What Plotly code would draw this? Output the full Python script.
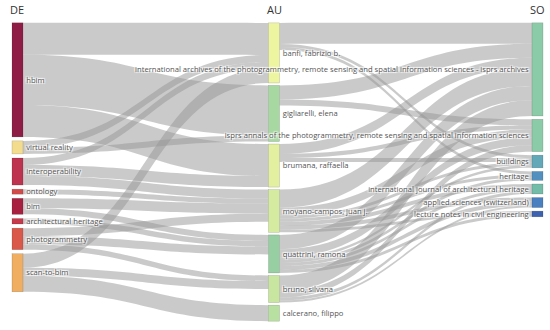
import plotly.graph_objects as go

# ---------------- data ----------------
DE = ["hbim", "virtual reality", "interoperability", "ontology", "bim",
      "architectural heritage", "photogrammetry", "scan-to-bim"]
AU = ["banfi, fabrizio b.", "gigliarelli, elena", "brumana, raffaella",
      "moyano-campos, juan j.", "quattrini, ramona", "bruno, silvana",
      "calcerano, filippo"]
SO = ["international archives of the photogrammetry, remote sensing and spatial information sciences - isprs archives",
      "isprs annals of the photogrammetry, remote sensing and spatial information sciences",
      "buildings", "heritage", "international journal of architectural heritage",
      "applied sciences (switzerland)", "lecture notes in civil engineering"]

# DE -> AU links
de_au_src = ["hbim", "hbim", "hbim", "virtual reality", "virtual reality",
             "interoperability", "interoperability", "interoperability",
             "ontology", "bim", "bim", "architectural heritage",
             "photogrammetry", "photogrammetry", "photogrammetry",
             "scan-to-bim", "scan-to-bim", "scan-to-bim"]
de_au_tgt = ["banfi, fabrizio b.", "gigliarelli, elena", "brumana, raffaella",
             "banfi, fabrizio b.", "gigliarelli, elena",
             "banfi, fabrizio b.", "brumana, raffaella", "moyano-campos, juan j.",
             "moyano-campos, juan j.", "moyano-campos, juan j.", "quattrini, ramona",
             "quattrini, ramona",
             "moyano-campos, juan j.", "quattrini, ramona", "bruno, silvana",
             "banfi, fabrizio b.", "bruno, silvana", "calcerano, filippo"]
de_au_val = [32, 50, 32, 7, 6, 7, 11, 9, 5, 10, 6, 5.5, 8, 8, 5.5, 14, 8, 16]

# AU -> SO links
au_so_src = ["banfi, fabrizio b."] * 3 + ["gigliarelli, elena"] * 2 + \
            ["brumana, raffaella"] * 3 + ["moyano-campos, juan j."] * 7 + \
            ["quattrini, ramona"] * 7 + ["bruno, silvana"] * 4
au_so_tgt = [SO[0], SO[2], SO[3],
             SO[0], SO[1],
             SO[0], SO[1], SO[2],
             SO[0], SO[1], SO[2], SO[3], SO[4], SO[5], SO[6],
             SO[0], SO[1], SO[2], SO[3], SO[4], SO[5], SO[6],
             SO[0], SO[1], SO[4], SO[5]]
au_so_val = [21, 3, 3,
             14, 6,
             10, 4, 4,
             18, 8, 3, 3, 4, 4, 2.7,
             14.3, 8, 2.7, 3, 3, 4, 3,
             15.7, 6.3, 3, 2]

column_titles = ["DE", "AU", "SO"]

# ---------------- styling ----------------
DE_COLORS = ["#8f1c45", "#f4dc8e", "#bd3350", "#d24b4b", "#a8203f",
             "#c73a4b", "#d9584a", "#efae62"]
AU_COLORS = ["#eef5a0", "#a8d8a2", "#e2f0a0", "#d4eba0", "#98cfa2",
             "#c8e6a0", "#b8e0a0"]
SO_COLORS = ["#8ccba8", "#8ccba8", "#62a8b8", "#5390c0", "#72bca8",
             "#4a7fc0", "#3c62b0"]

W, H = 550, 330
TOP_PX = 22.7          # top edge of the node columns
FULL_H = 299           # height spanned by the densest column
PAD = 3
THICK = 11
COL_X_PX = [17.5, 274, 537.5]
COL_GAP_PX = [4.2, 2.7, 3.6]

columns = [DE, AU, SO]
labels = DE + AU + SO
idx = {n: i for i, n in enumerate(labels)}

src = [idx[s] for s in de_au_src + au_so_src]
tgt = [idx[t] for t in de_au_tgt + au_so_tgt]
val = de_au_val + au_so_val

inflow = [0.0] * len(labels)
outflow = [0.0] * len(labels)
for s, t, v in zip(src, tgt, val):
    outflow[s] += v
    inflow[t] += v
node_val = [max(a, b) for a, b in zip(inflow, outflow)]

# desired pixel scale; plotly scales nodes so the densest column fills the domain
max_sum = max(sum(node_val[idx[n]] for n in c) for c in columns)
ky = (FULL_H - (len(AU) - 1) * COL_GAP_PX[1]) / max_sum
PLOT_H = ky * max_sum
M_T = TOP_PX
M_B = H - M_T - PLOT_H

xs, ys = [], []
for ci, col in enumerate(columns):
    y = 0.0
    for n in col:
        h = node_val[idx[n]] * ky
        xs.append(COL_X_PX[ci] / W)
        ys.append((y + h / 2) / PLOT_H)
        y += h + COL_GAP_PX[ci]

fig = go.Figure(go.Sankey(
    arrangement="fixed",
    domain=dict(x=[0, 1], y=[0, 1]),
    node=dict(
        label=labels,
        x=xs, y=ys,
        pad=PAD,
        thickness=THICK,
        color=DE_COLORS + AU_COLORS + SO_COLORS,
        line=dict(color="rgba(0,0,0,0.25)", width=0.5),
    ),
    link=dict(
        source=src, target=tgt, value=val,
        color="rgba(150,150,150,0.5)",
    ),
    textfont=dict(family="Open Sans", size=7.65, color="#555"),
))

for ci, t in enumerate(column_titles):
    fig.add_annotation(
        text=t, x=COL_X_PX[ci] / W, y=1 + (TOP_PX - 9) / PLOT_H,
        xref="paper", yref="paper", xanchor="center", yanchor="middle",
        showarrow=False, font=dict(family="Open Sans", size=11, color="#333"),
    )

fig.update_layout(
    width=W, height=H,
    margin=dict(l=0, r=0, t=M_T, b=M_B),
    paper_bgcolor="white",
    font=dict(family="Open Sans", size=10, color="#444"),
)

fig.write_html("out.html", config={"displayModeBar": False},
               post_script="document.body.style.margin='0';")
